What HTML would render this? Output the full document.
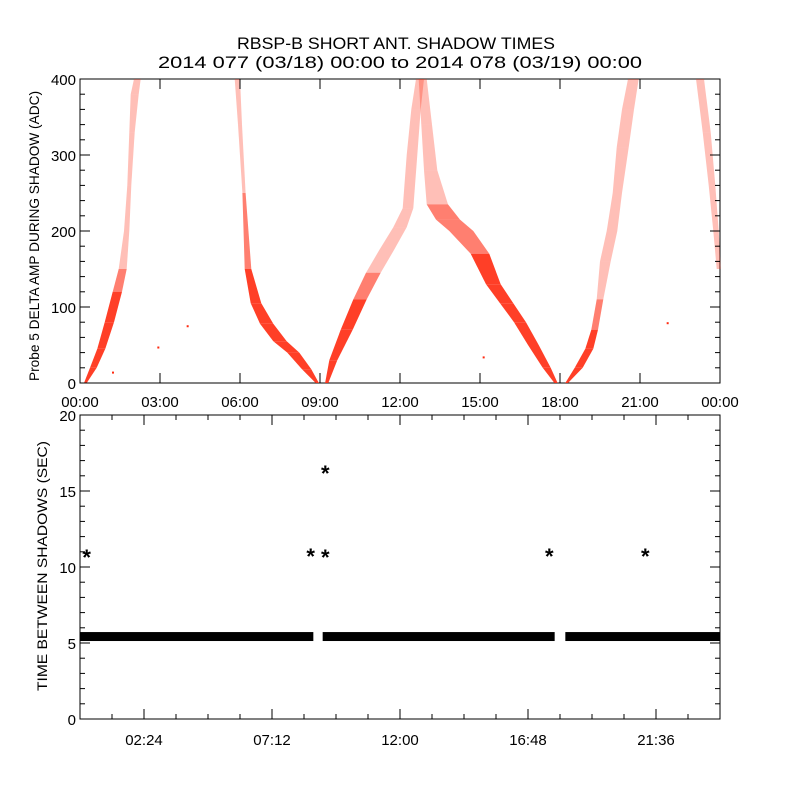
<!DOCTYPE html>
<html><head><meta charset="utf-8"><style>
body{margin:0;background:#fff}
svg text{font-family:"Liberation Sans",sans-serif;fill:#000}
</style></head><body>
<svg id="c" width="800" height="800" viewBox="0 0 800 800" xmlns="http://www.w3.org/2000/svg">
<rect width="800" height="800" fill="#fff"/>
<text x="237" y="49" font-size="17" textLength="318" lengthAdjust="spacingAndGlyphs">RBSP-B SHORT ANT. SHADOW TIMES</text>
<text x="158" y="68" font-size="17" textLength="484" lengthAdjust="spacingAndGlyphs">2014 077 (03/18) 00:00 to 2014 078 (03/19) 00:00</text>
<g id="topg"></g><g id="botg"></g>
</svg>
<script>
// ---- data ---- points: [hour, value, spread (hours), dense 1/0]
const topXTicks=[0,3,6,9,12,15,18,21,24];
const topXLabels=["00:00","03:00","06:00","09:00","12:00","15:00","18:00","21:00","00:00"];
const topYTicks=[0,100,200,300,400];
const branch1=[[0.2,0,0.1,1],[0.5,20,0.25,1],[0.8,45,0.3,1],[1.1,80,0.35,1],[1.4,120,0.35,1],[1.6,150,0.3,0],[1.75,200,0.2,0],[1.85,260,0.15,0],[1.95,330,0.2,0],[2.05,380,0.3,0],[2.15,400,0.25,0]];
const branch2=[[5.9,400,0.2,0],[6.0,340,0.15,0],[6.15,250,0.12,0],[6.3,150,0.25,1],[6.6,105,0.4,1],[7.0,78,0.5,1],[7.5,55,0.5,1],[8.0,40,0.45,1],[8.5,18,0.35,1],[8.9,0,0.12,1]];
const branch3=[[9.25,0,0.12,1],[9.5,30,0.3,1],[10,70,0.45,1],[10.5,110,0.5,1],[11,145,0.55,0],[11.5,175,0.55,0],[12,205,0.5,0],[12.3,230,0.4,0],[12.45,300,0.4,0],[12.6,360,0.35,0],[12.75,400,0.3,0]];
const branch4=[[12.85,400,0.3,0],[13.0,340,0.4,0],[13.15,280,0.5,0],[13.4,235,0.8,0],[13.8,215,0.9,1],[14.3,200,0.9,0],[15,170,0.7,1],[15.5,130,0.55,1],[16,105,0.5,1],[16.5,80,0.45,1],[17,50,0.4,1],[17.5,20,0.3,1],[17.85,0,0.12,1]];
const branch5=[[18.25,0,0.1,1],[18.7,20,0.3,1],[19.1,45,0.3,1],[19.3,70,0.25,1],[19.5,110,0.25,0],[19.7,160,0.4,0],[19.95,200,0.4,0],[20.15,250,0.35,0],[20.35,310,0.45,0],[20.55,360,0.45,0],[20.75,400,0.4,0]];
const branch6=[[23.25,400,0.3,0],[23.5,330,0.3,0],[23.7,260,0.25,0],[23.85,200,0.2,0],[23.95,150,0.15,0]];
const strays=[[1.2,15],[2.9,48],[4.0,76],[15.1,35],[22.0,80]];
const botXTicks=[2.4,7.2,12,16.8,21.6];
const botXLabels=["02:24","07:12","12:00","16:48","21:36"];
const botYTicks=[0,5,10,15,20];
const bandSegs=[[0,8.75],[9.1,17.8],[18.2,24]];
const bandLow=5.13, bandHigh=5.72;
const asterisks=[[0.25,10.8],[8.65,10.85],[9.2,16.3],[9.2,10.8],[17.6,10.85],[21.2,10.85]];

const NS="http://www.w3.org/2000/svg";
const X0=80,X1=720;
const tx=h=>X0+(X1-X0)*h/24;
const ty=v=>383-304*v/400;
const by=v=>719-304*v/20;
function mk(p,t,a){const e=document.createElementNS(NS,t);for(const k in a)e.setAttribute(k,a[k]);p.appendChild(e);return e;}
const topG=document.getElementById('topg'), botG=document.getElementById('botg');

let r=mk(topG,'rect',{x:X0,y:79,width:X1-X0,height:304,fill:'none',stroke:'#000','stroke-width':1});

const branches=[branch1,branch2,branch3,branch4,branch5,branch6];
branches.forEach(b=>{
 for(let i=0;i<b.length-1;i++){
  const a=b[i],c=b[i+1];
  const pts=[[tx(a[0]-a[2]/2),ty(a[1])],[tx(c[0]-c[2]/2),ty(c[1])],[tx(c[0]+c[2]/2),ty(c[1])],[tx(a[0]+a[2]/2),ty(a[1])]];
  const e=mk(topG,'polygon',{points:pts.map(p=>p[0].toFixed(1)+','+p[1].toFixed(1)).join(' '),fill:'#ff2a10','fill-opacity':(a[3]+c[3])>=1?(a[3]&&c[3]?0.9:0.6):0.3,stroke:'none'});
  
  
 }
});
strays.forEach(p=>{const e=mk(topG,'rect',{x:tx(p[0]),y:ty(p[1]),width:2,height:2,fill:'#ff2a10'});
 
 });
topXTicks.forEach((h,i)=>{
 mk(topG,'line',{x1:tx(h),x2:tx(h),y1:383,y2:373,stroke:'#000'});
 mk(topG,'line',{x1:tx(h),x2:tx(h),y1:79,y2:89,stroke:'#000'});
 const t=mk(topG,'text',{x:tx(h),y:407,'font-size':15,'text-anchor':'middle'});t.textContent=topXLabels[i];
 
 
});
for(let v=0;v<=400;v+=20){const L=v%100==0?10:5;
 mk(topG,'line',{x1:X0,x2:X0+L,y1:ty(v),y2:ty(v),stroke:'#000'});
 mk(topG,'line',{x1:X1,x2:X1-L,y1:ty(v),y2:ty(v),stroke:'#000'});}
topYTicks.forEach(v=>{const t=mk(topG,'text',{x:76,y:ty(v)+6,'font-size':15,'text-anchor':'end'});t.textContent=v;
 
 });
let yt=mk(topG,'text',{x:0,y:0,'font-size':14,'text-anchor':'middle',transform:'translate(39,236) rotate(-90)',textLength:290,lengthAdjust:'spacingAndGlyphs'});
yt.textContent='Probe 5 DELTA AMP DURING SHADOW (ADC)';


r=mk(botG,'rect',{x:X0,y:415,width:X1-X0,height:304,fill:'none',stroke:'#000'});

bandSegs.forEach(s=>{const e=mk(botG,'rect',{x:tx(s[0]),y:by(bandHigh),width:tx(s[1])-tx(s[0]),height:by(bandLow)-by(bandHigh),fill:'#000'});
 
 });
asterisks.forEach(p=>{const t=mk(botG,'text',{x:tx(p[0]),y:by(p[1])+10,'font-size':22,'font-weight':'bold','text-anchor':'middle'});t.textContent='*';
 
 });
for(let h=1.2;h<24;h+=1.2){const L=Math.abs((h/2.4)%2-1)<0.01?10:5;
 mk(botG,'line',{x1:tx(h),x2:tx(h),y1:719,y2:719-L,stroke:'#000'});
 mk(botG,'line',{x1:tx(h),x2:tx(h),y1:415,y2:415+L,stroke:'#000'});}
botXTicks.forEach((h,i)=>{const t=mk(botG,'text',{x:tx(h),y:745,'font-size':15,'text-anchor':'middle'});t.textContent=botXLabels[i];
 
 });
for(let v=0;v<=20;v++){const L=v%5==0?10:5;
 mk(botG,'line',{x1:X0,x2:X0+L,y1:by(v),y2:by(v),stroke:'#000'});
 mk(botG,'line',{x1:X1,x2:X1-L,y1:by(v),y2:by(v),stroke:'#000'});}
botYTicks.forEach(v=>{const t=mk(botG,'text',{x:76,y:by(v)+6,'font-size':15,'text-anchor':'end'});t.textContent=v;
 
 });
yt=mk(botG,'text',{x:0,y:0,'font-size':14,'text-anchor':'middle',transform:'translate(47,566) rotate(-90)',textLength:250,lengthAdjust:'spacingAndGlyphs'});
yt.textContent='TIME BETWEEN SHADOWS (SEC)';

</script>
</body></html>
